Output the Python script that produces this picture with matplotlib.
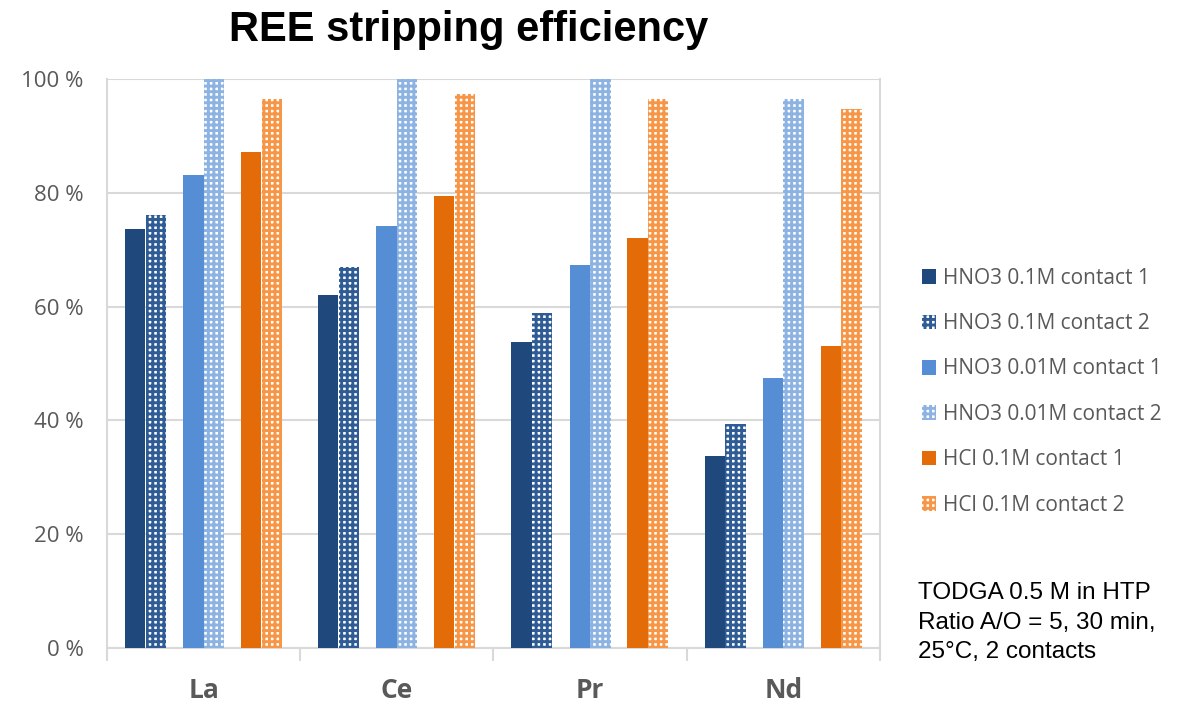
import matplotlib
matplotlib.use("Agg")
import matplotlib.pyplot as plt
import numpy as np

categories = ["La", "Ce", "Pr", "Nd"]
series_names = ["HNO3 0.1M contact 1", "HNO3 0.1M contact 2",
                "HNO3 0.01M contact 1", "HNO3 0.01M contact 2",
                "HCl 0.1M contact 1", "HCl 0.1M contact 2"]
hno3_01_c1 = [73.6, 62.0, 53.8, 33.7]
hno3_01_c2 = [76.1, 67.0, 58.9, 39.3]
hno3_001_c1 = [83.1, 74.2, 67.3, 47.5]
hno3_001_c2 = [100.0, 100.0, 100.0, 96.5]
hcl_01_c1 = [87.2, 79.4, 72.1, 53.1]
hcl_01_c2 = [96.5, 97.4, 96.5, 94.8]
yticks = [0, 20, 40, 60, 80, 100]

series = [hno3_01_c1, hno3_01_c2, hno3_001_c1, hno3_001_c2, hcl_01_c1, hcl_01_c2]
colors = ["#1F497D", "#2F5C95", "#558ED5", "#8DB3E2", "#E36C09", "#F79646"]
hatched = [False, True, False, True, False, True]
offsets = [-0.355, -0.248, -0.053, 0.053, 0.245, 0.352]
width = 0.105

plt.rcParams['hatch.linewidth'] = 2.1
fig = plt.figure(figsize=(11.82, 7.03), dpi=100)
ax = fig.add_axes([107/1182, 1-648/703, (880-107)/1182, (648-79)/703])

x = np.arange(len(categories))
handles = []
for vals, col, h, off, name in zip(series, colors, hatched, offsets, series_names):
    if h:
        b = ax.bar(x + off, vals, width, facecolor="white", edgecolor=col,
                   linewidth=0, hatch="+++", label=name, zorder=3)
    else:
        b = ax.bar(x + off, vals, width, color=col, linewidth=0,
                   label=name, zorder=3)
    handles.append(b)

ax.set_xlim(-0.5, len(categories) - 0.5)
ax.set_ylim(0, 100)
ax.set_yticks(yticks)
ax.set_yticklabels([f"{v} %" for v in yticks], fontsize=16, color="#595959",
                   family="Open Sans")
ax.yaxis.grid(True, color="#D9D9D9", linewidth=1.5, zorder=0)
ax.tick_params(axis="y", length=0, pad=17)

ax.set_xticks(np.arange(len(categories) + 1) - 0.5)
ax.set_xticklabels([])
ax.tick_params(axis="x", which="major", length=9, color="#D9D9D9", width=1.5)
ax.set_xticks(x, minor=True)
ax.set_xticklabels(categories, minor=True, fontsize=19, fontweight="bold",
                   color="#595959", family="Open Sans")
ax.tick_params(axis="x", which="minor", length=0, pad=21)

for s in ["left", "right", "bottom"]:
    ax.spines[s].set_color("#D9D9D9")
    ax.spines[s].set_linewidth(1.5)
ax.spines["top"].set_visible(False)

fig.text(469/1182, 1-30/703, "REE stripping efficiency", fontsize=30,
         fontweight="bold", family="Liberation Sans", ha="center", va="center")

leg = fig.legend(handles=handles, loc="upper left",
                 bbox_to_anchor=(903/1182, 1-249/703), frameon=False,
                 prop={"family": "Open Sans", "size": 15}, labelcolor="#595959",
                 handlelength=0.7, handleheight=0.7, handletextpad=0.3,
                 labelspacing=1.17)

fig.text(918/1182, 1-582/703,
         "TODGA 0.5 M in HTP\nRatio A/O = 5, 30 min,\n25°C, 2 contacts",
         fontsize=17.5, family="Liberation Sans", ha="left", va="top",
         linespacing=1.45)

fig.savefig("out.png", dpi=100)
